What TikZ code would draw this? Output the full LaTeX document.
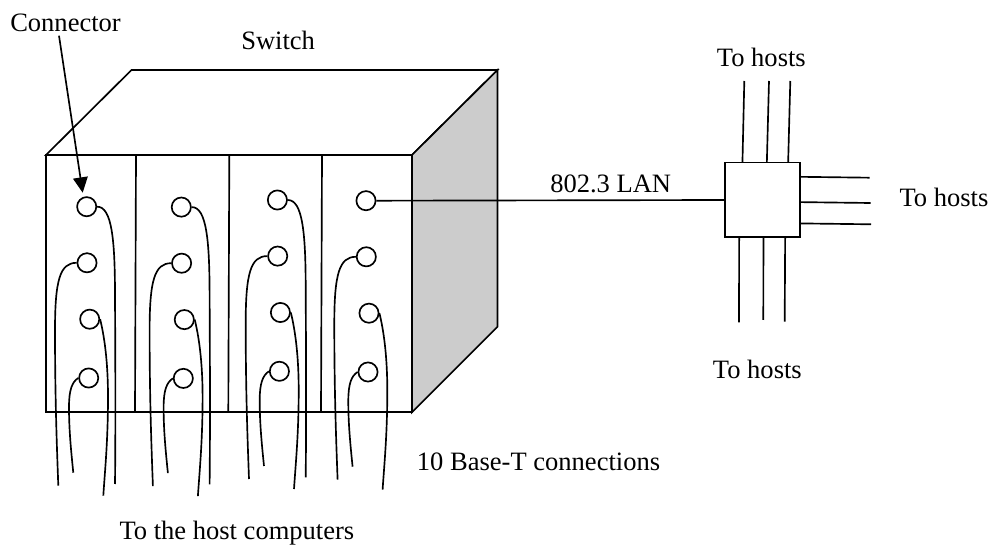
\documentclass[tikz,border=0pt]{standalone}
\usepackage{fontspec}
\setmainfont{Liberation Serif}
\usetikzlibrary{arrows.meta}
\tikzset{
  x=0.75pt,y=-0.75pt,
  line/.style={line width=1.25pt,black},
  port/.style={circle,draw,line width=1.25pt,minimum size=14.4pt,inner sep=0pt,fill=white},
  lbl/.style={anchor=base west,inner sep=0pt,font=\fontsize{19.9pt}{23pt}\selectfont},
  hubbox/.style={draw,line width=1.25pt,inner sep=0pt,minimum width=56.25pt,minimum height=56pt}
}
\begin{document}
\begin{tikzpicture}[line join=miter]
\useasboundingbox (0,0) rectangle (990,545);
% switch body
\draw[line] (46,155) -- (131.5,70) -- (497.5,70) -- (412,155) -- cycle;
\draw[line,fill={rgb,255:red,204;green,204;blue,204}] (412,155) -- (497.5,70) -- (497.5,326.7) -- (412,412.3) -- cycle;
\draw[line] (46,155) rectangle (412,412);
\draw[line] (136,155) -- (135,412);
\draw[line] (229.3,155) -- (228.3,412);
\draw[line] (322,155) -- (321,412);
% connector columns
\foreach \col/\sx/\sy in {1/0/0,2/94.6/0.4,3/190.7/-6.7,4/279.3/-6}{
  \begin{scope}[shift={(\sx,\sy)}]
    \node[port] (c\col a) at (86.7,206.7) {};
    \node[port] (c\col b) at (87,262.8) {};
    \node[port] (c\col c) at (89.7,319.2) {};
    \node[port] (c\col d) at (88.7,378) {};
    \coordinate (e\col a) at (115,484);
    \coordinate (e\col b) at (58.3,485.7);
    \coordinate (e\col c) at (103.3,495.7);
    \coordinate (e\col d) at (73.3,472.7);
    \ifnum\col<4
      \draw[line] (c\col a.east) .. controls (112,206.7) and (115,240) .. (115,297) .. controls (115.5,380) and (115.5,440) .. (e\col a);
    \fi
    \draw[line] (c\col b.west) .. controls (60,262.8) and (55,280) .. (55,330) .. controls (55,400) and (57,450) .. (e\col b);
    \draw[line] (c\col c.east) .. controls (104,335) and (108,360) .. (108,397) .. controls (108,440) and (105,470) .. (e\col c);
    \draw[line] (c\col d.west) .. controls (72,382) and (69,390) .. (69,407) .. controls (69,430) and (71,450) .. (e\col d);
  \end{scope}
}
% hub
\node[hubbox] (hub) at (762.8,200) {};
\draw[line] (c4a.east) -- (hub.west);
\coordinate (t1) at (744.3,81);
\coordinate (t2) at (769,81);
\coordinate (t3) at (790.3,81);
\coordinate (r1) at (869.7,177.7);
\coordinate (r2) at (870.7,203);
\coordinate (r3) at (871,224.3);
\coordinate (b1) at (739,322.3);
\coordinate (b2) at (763.3,320);
\coordinate (b3) at (784.7,321.7);
\draw[line] (hub.north west) ++(18,0) -- (t1);
\draw[line] (hub.north west) ++(42.4,0) -- (t2);
\draw[line] (hub.north west) ++(63.7,0) -- (t3);
\draw[line] (hub.north east) ++(0,15) -- (r1);
\draw[line] (hub.north east) ++(0,40.3) -- (r2);
\draw[line] (hub.north east) ++(0,61.6) -- (r3);
\draw[line] (hub.south west) ++(14.7,0) -- (b1);
\draw[line] (hub.south west) ++(39,0) -- (b2);
\draw[line] (hub.south west) ++(60.7,0) -- (b3);
% labels
\node[lbl] (lconn) at (10,32) {Connector};
\node[lbl] (lsw) at (241,49.3) {Switch};
\node[lbl] (lt) at (716.7,66.7) {To hosts};
\node[lbl] (lr) at (899.3,206.7) {To hosts};
\node[lbl] (lb) at (712.7,379) {To hosts};
\node[lbl] (llan) at (550,192.7) {802.3 LAN};
\node[lbl] (lbase) at (416.7,470) {10 Base-T connections};
\node[lbl] (lhost) at (119.3,540) {To the host computers};
% arrow
\coordinate (arrtail) at (59,35.7);
\coordinate (arrtip) at (82.7,192.7);
\draw[line,-{Triangle[length=11.5pt,width=11pt]}] (arrtail) -- (arrtip);
\end{tikzpicture}
\end{document}
